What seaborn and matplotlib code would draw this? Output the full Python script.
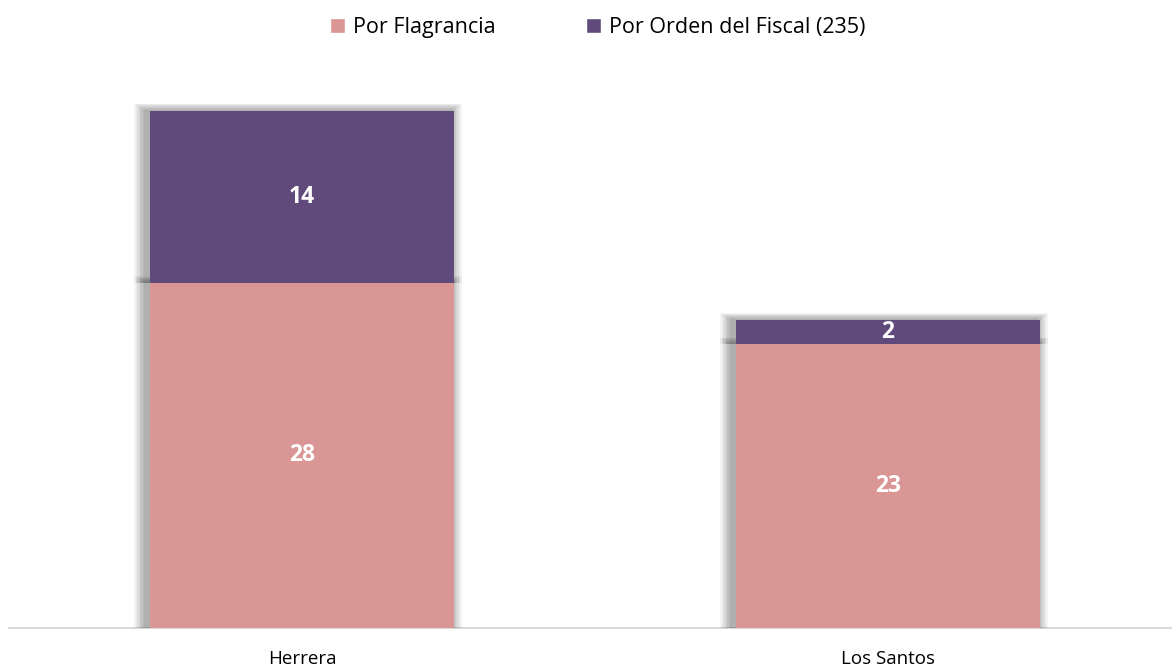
import matplotlib
matplotlib.use("Agg")
import matplotlib.pyplot as plt
import seaborn as sns
import pandas as pd
from matplotlib.patches import Patch

# data
provincias = ["Herrera", "Los Santos"]
flagrancia = [28, 23]
orden_fiscal = [14, 2]
series_labels = ["Por Flagrancia", "Por Orden del Fiscal (235)"]

PINK = "#D99694"
PURPLE = "#604A7B"

sns.set_style("white")
plt.rcParams["font.family"] = ["Open Sans", "DejaVu Sans"]
plt.rcParams["text.color"] = "black"

df = pd.DataFrame({"provincia": provincias,
                   "flagrancia": flagrancia,
                   "fiscal": orden_fiscal})
df["total"] = df["flagrancia"] + df["fiscal"]

fig = plt.figure(figsize=(11.72, 6.69), dpi=100)
ax = fig.add_axes([0.0077, 0.062, 1.0, 0.828])

width = 0.52

# soft shadow behind segments (slightly up and to the left)
for i, row in df.iterrows():
    for k in range(8):
        pad = 0.0024 * (k + 1)
        for lo, hi in [(0, row["flagrancia"]), (row["flagrancia"], row["total"])]:
            ax.bar(i - 0.007, hi - lo + 0.07 * (k + 1), bottom=lo,
                   width=width + 2 * pad, color="black", alpha=0.045,
                   linewidth=0, zorder=1)

sns.barplot(data=df, x="provincia", y="total", color=PURPLE, width=width,
            saturation=1, linewidth=0, ax=ax, zorder=2)
sns.barplot(data=df, x="provincia", y="flagrancia", color=PINK, width=width,
            saturation=1, linewidth=0, ax=ax, zorder=3)

for i, row in df.iterrows():
    ax.text(i, row["flagrancia"] / 2, str(row["flagrancia"]), ha="center",
            va="center", color="white", fontsize=16.5, fontweight="bold", zorder=5)
    ax.text(i, row["flagrancia"] + row["fiscal"] / 2, str(row["fiscal"]),
            ha="center", va="center", color="white", fontsize=16.5,
            fontweight="bold", zorder=5)

ax.set_xlim(-0.5, 1.5)
ax.set_ylim(0, 45)
ax.set_xlabel("")
ax.set_ylabel("")
ax.set_yticks([])
ax.tick_params(axis="x", length=0, labelsize=13.5, pad=16, colors="black")
sns.despine(ax=ax, left=True, right=True, top=True)
ax.spines["bottom"].set_color("#D9D9D9")
ax.spines["bottom"].set_linewidth(1.5)
ax.spines["bottom"].set_zorder(0)

handles = [Patch(facecolor=PINK, label=series_labels[0]),
           Patch(facecolor=PURPLE, label=series_labels[1])]
fig.legend(handles=handles, loc="upper center", bbox_to_anchor=(0.51, 1.004),
           ncol=2, frameon=False, fontsize=15.5, handlelength=0.7,
           handleheight=0.7, handletextpad=0.35, columnspacing=4.2,
           labelcolor="black")

fig.savefig("out.png", dpi=100)
